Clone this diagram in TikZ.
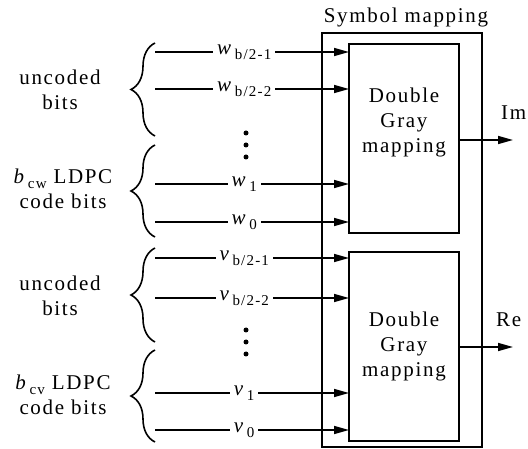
\documentclass[tikz,border=0pt]{standalone}
\usepackage{fontspec}
\setmainfont{Liberation Serif}[LetterSpace=8]
\usetikzlibrary{arrows.meta,decorations.pathreplacing}
\newcommand\bitlab[2]{\textit{#1}\hspace{2pt}\raisebox{-0.55ex}{\fontsize{15}{15}\selectfont #2}}
\tikzset{
  wire/.style={line width=1.6pt},
  arr/.style={wire,-{Triangle[length=15pt,width=8pt]}},
  box/.style={wire,draw},
  lbl/.style={fill=white,inner xsep=4pt,inner ysep=1pt,font=\fontsize{21}{21}\selectfont},
  txt/.style={align=center,font=\fontsize{21}{25}\selectfont,inner sep=0pt},
  grp/.style={wire,decorate,decoration={brace,amplitude=24pt}},
  dotc/.style={fill,circle,inner sep=0pt,minimum size=5pt}
}
\begin{document}
\begin{tikzpicture}[x=1pt,y=-1pt]
\useasboundingbox (0,0) rectangle (528,449);

% outer symbol mapping block and the two mappers
\draw[box] (322,33) rectangle (482,447);
\node[txt] (title) at (406,17) {Symbol mapping};
\draw[box] (349,44) rectangle (459,233);
\draw[box] (349,252) rectangle (459,441);
\node[txt] (dgw) at (404,122) {Double\\Gray\\mapping};
\node[txt] (dgv) at (404,346) {Double\\Gray\\mapping};

% inputs of the upper mapper
\foreach \n/\y/\s in {a/52/{b/2-1}, b/89/{b/2-2}, c/184/1, d/222/0}{
  \coordinate (ws\n) at (155,\y);
  \coordinate (we\n) at (349,\y);
  \draw[arr] (ws\n) -- node[lbl,pos=0.46] {\bitlab{w}{\s}} (we\n);
}
% inputs of the lower mapper
\foreach \n/\y/\s in {a/258/{b/2-1}, b/298/{b/2-2}, c/393/1, d/430/0}{
  \coordinate (vs\n) at (155,\y);
  \coordinate (ve\n) at (349,\y);
  \draw[arr] (vs\n) -- node[lbl,pos=0.46] {\bitlab{v}{\s}} (ve\n);
}

% vertical ellipses
\foreach \y in {133,145,157} \node[dotc] (dw\y) at (246,\y) {};
\foreach \y in {330,342,354} \node[dotc] (dv\y) at (246,\y) {};

% braces grouping the bits
\coordinate (g1t) at (155,43);  \coordinate (g1b) at (155,136);
\coordinate (g2t) at (155,145); \coordinate (g2b) at (155,237);
\coordinate (g3t) at (155,248); \coordinate (g3b) at (155,342);
\coordinate (g4t) at (155,350); \coordinate (g4b) at (155,442);
\draw[grp] (g1b) -- (g1t);
\draw[grp] (g2b) -- (g2t);
\draw[grp] (g3b) -- (g3t);
\draw[grp] (g4b) -- (g4t);

\node[txt] (unw) at (60,90) {uncoded\\bits};
\node[txt] (ldw) at (63,189) {\bitlab{b}{cw} LDPC\\code bits};
\node[txt] (unv) at (60,296) {uncoded\\bits};
\node[txt] (ldv) at (63,395) {\bitlab{b}{cv} LDPC\\code bits};

% outputs
\coordinate (ow) at (459,140);
\coordinate (ov) at (459,347);
\coordinate (owe) at (513,140);
\coordinate (ove) at (513,347);
\draw[arr] (ow) -- (owe);
\draw[arr] (ov) -- (ove);
\node[txt,anchor=west] (im) at (501,113) {Im};
\node[txt,anchor=west] (re) at (496,320) {Re};
\end{tikzpicture}
\end{document}
